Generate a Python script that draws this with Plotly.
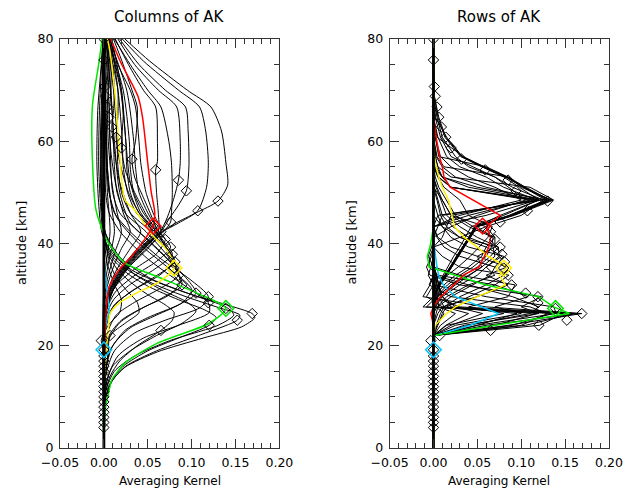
import plotly.graph_objects as go

# ---------------- diagonal of the averaging kernel (diamonds, both panels) ----------------
DIAG_ALT = [4, 5, 6, 7, 8, 9, 10, 11, 12, 13, 14, 15, 16, 17, 18, 19.2, 21, 22, 23, 24, 25, 26.3,
            27.3, 28.4, 29.6, 30.3, 31.9, 33.8, 35.2, 36.4, 37.9, 39.3, 40.8, 42.3, 43.4, 44.2,
            46.4, 48.3, 50.3, 52.4, 54.4, 56.5, 58.7, 60.8, 62.8, 64.7, 66.7, 68.8, 70.7, 75.9, 80]
DIAG_VAL = [0, 0, 0, 0, 0, 0, 0, 0, 0, 0, 0, 0, 0, 0, 0, 0, -0.003, 0.007, 0.065, 0.12, 0.152, 0.169,
            0.139, 0.119, 0.119, 0.105, 0.089, 0.085, 0.08, 0.081, 0.078, 0.076, 0.07, 0.065, 0.056, 0.076,
            0.107, 0.13, 0.094, 0.085, 0.059, 0.032, 0.02, 0.014, 0.009, 0.006, 0.004, 0.002, 0.001, 0, 0]

HILITE_LEVELS = [19.2, 27.3, 35.2, 43.4]
HILITE_COLORS = ["#00c8ff", "#00e600", "#ffee00", "#ff0000"]

ZERO_ALT = [0, 80]
ZERO_X = [0, 0]

# ---------------- left panel: columns of AK (altitude list, value list) ----------------
LEFT_COLUMNS = [
    [[0, 16, 19, 21, 24, 26.5, 29, 32, 36, 42, 80], [0, 0.001, 0.0, -0.003, 0.005, 0.018, 0.02, 0.012, 0.004, 0, 0]],
    [[0, 12, 16, 19, 22, 24.5, 26.5, 28.5, 31, 34, 38, 45, 80], [0, 0.001, 0.003, 0.005, 0.007, 0.025, 0.04, 0.038, 0.025, 0.012, 0.004, 0, 0]],
    [[0, 10, 14, 17, 20, 23, 25, 26.5, 28, 30, 32.5, 35, 38, 42, 55, 80], [0, 0.001, 0.007, 0.018, 0.038, 0.065, 0.078, 0.08, 0.07, 0.05, 0.03, 0.015, 0.005, 0, -0.002, 0]],
    [[0, 9, 13, 16, 19, 21.5, 24, 25.5, 27, 29, 31.5, 34, 37, 40, 48, 60, 80], [0, 0.001, 0.008, 0.022, 0.05, 0.085, 0.12, 0.128, 0.115, 0.085, 0.052, 0.028, 0.01, 0.001, -0.003, -0.004, 0]],
    [[0, 9, 13, 16, 19, 22, 25, 26, 27.5, 29.5, 32, 34.5, 37.5, 41, 48, 56, 66, 80], [0, 0.001, 0.009, 0.025, 0.06, 0.108, 0.152, 0.155, 0.13, 0.095, 0.058, 0.03, 0.01, 0.0, -0.004, -0.006, -0.005, -0.001]],
    [[0, 8, 10, 13.3, 15.8, 18.8, 21.5, 23.7, 25.5, 26.3, 28, 30, 32.5, 35, 38, 42, 48, 56, 66, 75, 80], [0, 0.001, 0.002, 0.01, 0.024, 0.061, 0.113, 0.157, 0.172, 0.169, 0.14, 0.1, 0.06, 0.03, 0.01, -0.002, -0.006, -0.008, -0.007, -0.003, -0.001]],
    [[0, 11, 15, 18, 21, 24, 26, 27.5, 30, 33, 37, 42, 50, 80], [0, 0.002, 0.012, 0.035, 0.075, 0.13, 0.148, 0.14, 0.1, 0.055, 0.02, 0.002, -0.003, 0]],
    [[0, 12, 16, 19, 22, 24.5, 26.8, 28.5, 31, 34, 38, 43, 55, 80], [0, 0.002, 0.01, 0.03, 0.06, 0.09, 0.105, 0.095, 0.065, 0.035, 0.012, 0.0, -0.003, 0]],
    [[0, 13, 18, 21.5, 24, 26.5, 28.4, 32, 37, 42, 46, 50, 60, 70, 80], [0, 0.003, 0.016, 0.045, 0.085, 0.12, 0.119, 0.09, 0.05, 0.02, 0.006, 0.002, 0.001, 0, -0.001]],
    [[0, 14, 19, 22.5, 25, 27.5, 29.6, 33, 37, 42.3, 46, 50, 60, 70, 80], [0, 0.002, 0.012, 0.035, 0.07, 0.11, 0.119, 0.098, 0.065, 0.03, 0.012, 0.006, 0.003, 0.002, 0]],
    [[0, 14, 19, 23, 25.5, 28, 30.3, 33, 37, 42.3, 46, 50, 60, 70, 80], [0, 0.001, 0.007, 0.024, 0.05, 0.085, 0.105, 0.095, 0.072, 0.04, 0.018, 0.01, 0.007, 0.005, 0.001]],
    [[0, 15, 20, 23.5, 26, 28.5, 31, 35, 40, 45, 50, 60, 80], [0, 0.002, 0.01, 0.03, 0.06, 0.09, 0.1, 0.075, 0.04, 0.015, 0.006, 0.002, 0]],
    [[0, 16, 21, 24.5, 27, 29.5, 31.9, 37, 42.3, 46, 50, 55, 60, 70, 80], [0, 0.001, 0.005, 0.018, 0.04, 0.068, 0.089, 0.075, 0.048, 0.024, 0.015, 0.012, 0.011, 0.008, 0.002]],
    [[0, 17, 22, 25, 27.5, 30, 32.5, 35.5, 40, 44, 50, 60, 80], [0, 0.001, 0.006, 0.02, 0.045, 0.075, 0.087, 0.08, 0.055, 0.03, 0.018, 0.012, 0.003]],
    [[0, 18, 23, 26, 28.5, 31, 33.8, 38, 42.3, 46, 50, 55, 60, 70, 80], [0, 0.001, 0.005, 0.014, 0.035, 0.062, 0.085, 0.075, 0.054, 0.03, 0.02, 0.016, 0.015, 0.011, 0.003]],
    [[0, 20, 24, 27.5, 30.5, 33.5, 36.4, 39, 42.3, 46, 50, 55, 60, 70, 80], [0, 0, 0.003, 0.01, 0.03, 0.058, 0.081, 0.072, 0.058, 0.037, 0.027, 0.022, 0.021, 0.016, 0.004]],
    [[0, 20, 25, 28, 31, 34, 36.8, 39.5, 42.3, 46, 52, 60, 70, 80], [0, 0, 0.003, 0.012, 0.035, 0.065, 0.08, 0.07, 0.06, 0.042, 0.03, 0.025, 0.02, 0.005]],
    [[0, 20, 26, 29, 32, 35, 37.9, 40, 42.3, 46, 50, 55, 60, 70, 80], [0, 0, 0.003, 0.011, 0.03, 0.058, 0.078, 0.07, 0.06, 0.04, 0.03, 0.026, 0.025, 0.019, 0.005]],
    [[0, 20, 27, 30.5, 33.5, 36.5, 39.3, 42.3, 46, 50, 55, 60, 70, 80], [0, 0, 0.003, 0.013, 0.033, 0.06, 0.076, 0.062, 0.045, 0.034, 0.03, 0.029, 0.022, 0.005]],
    [[0, 20, 25, 29, 32, 35, 38, 40.8, 42.3, 46, 50, 55, 60, 70, 80], [0, 0, 0.001, 0.005, 0.015, 0.035, 0.06, 0.07, 0.063, 0.05, 0.04, 0.036, 0.034, 0.026, 0.006]],
    [[0, 20, 26, 30, 33, 36, 39, 42.3, 46, 50, 55.8, 60, 66.7, 70, 75, 80], [0, 0, 0.001, 0.005, 0.015, 0.032, 0.05, 0.065, 0.056, 0.048, 0.042, 0.04, 0.036, 0.03, 0.016, 0.007]],
    [[0, 20, 27, 31, 35, 39, 42.3, 44.2, 46, 50, 55.8, 60, 66.7, 70, 75, 80], [0, 0, 0.003, 0.011, 0.027, 0.048, 0.068, 0.076, 0.077, 0.078, 0.077, 0.074, 0.065, 0.05, 0.03, 0.012]],
    [[0, 20, 27, 31, 35, 39, 42.3, 44, 46.4, 51, 55.8, 62, 66.7, 70, 75.7, 80], [0, 0, 0.003, 0.011, 0.026, 0.046, 0.067, 0.085, 0.107, 0.117, 0.119, 0.116, 0.109, 0.085, 0.045, 0.021]],
    [[0, 20, 27, 31, 35, 39, 42.3, 44, 46, 48.3, 51.4, 55.8, 62, 66.7, 70, 75.7, 80], [0, 0, 0.003, 0.01, 0.025, 0.045, 0.066, 0.082, 0.105, 0.13, 0.141, 0.139, 0.134, 0.122, 0.095, 0.052, 0.024]],
    [[0, 20, 27, 31, 35, 39, 42.3, 45, 47.5, 50.3, 52.5, 55.8, 62, 66.7, 70, 75, 80], [0, 0, 0.003, 0.01, 0.024, 0.044, 0.065, 0.075, 0.085, 0.094, 0.096, 0.097, 0.096, 0.093, 0.07, 0.04, 0.018]],
    [[0, 20, 27, 31, 35, 39, 42.3, 45, 49, 52.4, 55.8, 60, 66.7, 70, 75, 80], [0, 0, 0.002, 0.009, 0.023, 0.043, 0.064, 0.072, 0.08, 0.085, 0.087, 0.087, 0.083, 0.062, 0.035, 0.016]],
    [[0, 20, 27, 31, 35, 39, 42.3, 46, 50, 54.4, 56, 60, 66.7, 70, 75, 80], [0, 0, 0.002, 0.008, 0.022, 0.042, 0.062, 0.062, 0.06, 0.059, 0.061, 0.061, 0.059, 0.045, 0.028, 0.013]],
    [[0, 20, 27, 31, 35, 39, 42.3, 45, 49, 53, 56.5, 60, 66.7, 70, 75, 80], [0, 0, 0.002, 0.007, 0.021, 0.041, 0.06, 0.055, 0.045, 0.035, 0.032, 0.036, 0.038, 0.032, 0.022, 0.011]],
    [[0, 20, 27, 31, 35, 39, 42.3, 46, 50, 54, 58.7, 65, 70, 75, 80], [0, 0, 0.002, 0.007, 0.02, 0.04, 0.058, 0.047, 0.035, 0.025, 0.02, 0.022, 0.02, 0.015, 0.009]],
    [[0, 20, 31, 35, 39, 42.3, 46, 50, 56, 60.8, 65, 70, 75, 80], [0, 0, 0.006, 0.019, 0.038, 0.055, 0.04, 0.028, 0.018, 0.014, 0.016, 0.016, 0.012, 0.008]],
    [[0, 20, 31, 35, 39, 42.3, 46, 52, 58, 62.8, 66, 70, 75, 80], [0, 0, 0.005, 0.015, 0.03, 0.042, 0.03, 0.018, 0.012, 0.009, 0.011, 0.012, 0.01, 0.006]],
    [[0, 25, 31, 35, 39, 42.3, 46, 52, 58, 64.7, 70, 75, 80], [0, 0, 0.003, 0.01, 0.02, 0.03, 0.022, 0.013, 0.008, 0.006, 0.008, 0.008, 0.005]],
    [[0, 28, 33, 38, 42.3, 46, 52, 60, 66.7, 75, 80], [0, 0, 0.004, 0.012, 0.02, 0.015, 0.009, 0.005, 0.004, 0.006, 0.004]],
    [[0, 30, 36, 42.3, 48, 55, 62, 68.8, 75, 80], [0, 0, 0.005, 0.012, 0.008, 0.004, 0.003, 0.002, 0.004, 0.003]],
    [[0, 32, 42.3, 50, 60, 70.7, 80], [0, 0, 0.007, 0.004, 0.002, 0.001, 0.002]],
]

LEFT_CYAN_ALT = [0, 19.2, 24, 27, 30, 35, 40, 80]
LEFT_CYAN_X = [0, 0, 0.002, 0.006, 0.004, 0.001, 0, 0]
LEFT_GREEN_ALT = [0, 8, 11.3, 13.3, 16.6, 20.5, 24.4, 27.3, 30.3, 33.5, 36.2, 40.4, 46.6, 56, 67, 75, 80]
LEFT_GREEN_X = [0, 0.002, 0.006, 0.009, 0.024, 0.061, 0.12, 0.139, 0.106, 0.061, 0.024, 0.004, -0.009, -0.013, -0.013, -0.006, -0.002]
LEFT_YELLOW_ALT = [0, 10, 18, 23, 26.3, 28.3, 30.3, 32.3, 35.2, 38.7, 41.3, 46.6, 48.5, 56.3, 68.6, 78.5, 80]
LEFT_YELLOW_X = [0, 0, 0.002, 0.005, 0.007, 0.017, 0.037, 0.061, 0.08, 0.072, 0.057, 0.035, 0.024, 0.0185, 0.013, 0.006, 0.004]
LEFT_RED_ALT = [0, 20, 28, 31.5, 34.8, 37.4, 40.7, 43.4, 46, 50, 55.7, 64.7, 68.7, 75.5, 80]
LEFT_RED_X = [0, 0.001, 0.003, 0.006, 0.017, 0.031, 0.046, 0.056, 0.058, 0.054, 0.05, 0.044, 0.039, 0.019, 0.008]

# ---------------- right panel: rows of AK on the altitude grid ----------------
GRID_ALT = [0, 20, 22, 24, 26.3, 27.6, 29.6, 31.9, 33.8, 35.4, 37.5, 39.3, 41.2, 43.3, 45.5, 48.5,
            51, 53, 55, 57, 60.8, 64.7, 68.8, 80]

RIGHT_ROWS = [
    [0, 0, 0, 0.004, 0.012, 0.003, 0.002, 0.001, 0, 0, 0, 0, 0, 0, 0, 0, 0, 0, 0, 0, 0, 0, 0, 0],
    [0, 0, 0, 0.008, 0.025, 0.006, 0.004, 0.002, 0.001, 0, 0, 0, 0, 0, 0, 0, 0, 0, 0, 0, 0, 0, 0, 0],
    [0, 0, 0, 0.014, 0.04, 0.012, 0.006, 0.004, 0.002, 0.001, 0, 0, 0, 0, 0, 0, 0, 0, 0, 0, 0, 0, 0, 0],
    [0, 0, 0, 0.02, 0.056, 0.025, 0.01, 0.006, 0.003, 0.001, 0, 0, 0, 0, 0, 0, 0, 0, 0, 0, 0, 0, 0, 0],
    [0, 0, 0, 0.05, 0.095, 0.02, 0.01, 0.006, 0.003, 0.001, 0, 0, 0, 0, 0, 0, 0, 0, 0, 0, 0, 0, 0, 0],
    [0, 0, 0, 0.07, 0.118, 0.0, 0.008, 0.006, 0.003, 0.001, 0, 0, 0, 0, 0, 0, 0, 0, 0, 0, 0, 0, 0, 0],
    [0, 0, 0, 0.09, 0.135, -0.008, 0.004, 0.004, 0.002, 0.001, 0, 0, 0, 0, 0, 0, 0, 0, 0, 0, 0, 0, 0, 0],
    [0, 0, 0, 0.121, 0.148, -0.012, 0.0, 0.003, 0.002, 0.001, 0, 0, 0, 0, 0, 0, 0, 0, 0, 0, 0, 0, 0, 0],
    [0, 0, 0, 0.105, 0.16, 0.01, -0.008, 0.0, 0.001, 0, 0, 0, 0, 0, 0, 0, 0, 0, 0, 0, 0, 0, 0, 0],
    [0, 0, 0, 0.085, 0.169, 0.06, -0.012, -0.004, 0, 0, 0, 0, 0, 0, 0, 0, 0, 0, 0, 0, 0, 0, 0, 0],
    [0, 0, 0, 0.06, 0.165, 0.03, 0.0, 0.0, 0, 0, 0, 0, 0, 0, 0, 0, 0, 0, 0, 0, 0, 0, 0, 0],
    [0, 0, 0, 0.1, 0.13, 0.11, 0.02, -0.005, 0, 0, 0, 0, 0, 0, 0, 0, 0, 0, 0, 0, 0, 0, 0, 0],
    [0, 0, 0, 0.04, 0.11, 0.12, 0.09, 0.04, 0.0, 0, 0, 0, 0, 0, 0, 0, 0, 0, 0, 0, 0, 0, 0, 0],
    [0, 0, 0, 0.05, 0.14, 0.137, 0.06, 0.0, -0.006, -0.003, 0, 0, 0, 0, 0, 0, 0, 0, 0, 0, 0, 0, 0, 0],
    [0, 0, 0, 0.035, 0.12, 0.1, 0.123, 0.03, -0.004, -0.008, -0.002, 0, 0, 0, 0, 0, 0, 0, 0, 0, 0, 0, 0, 0],
    [0, 0, 0, 0.025, 0.1, 0.07, 0.108, 0.07, 0.005, -0.005, -0.004, 0, 0, 0, 0, 0, 0, 0, 0, 0, 0, 0, 0, 0],
    [0, 0, 0, 0.015, 0.08, 0.04, 0.085, 0.093, 0.03, 0.0, -0.006, -0.002, 0, 0, 0, 0, 0, 0, 0, 0, 0, 0, 0, 0],
    [0, 0, 0, 0.005, 0.01, 0.015, 0.04, 0.07, 0.086, 0.03, 0.01, 0.0, 0, 0, 0, 0, 0, 0, 0, 0, 0, 0, 0, 0],
    [0, 0, 0, 0.003, 0.008, 0.012, 0.03, 0.06, 0.08, 0.07, 0.03, 0.012, 0.004, 0, 0, 0, 0, 0, 0, 0, 0, 0, 0, 0],
    [0, 0, 0, 0, 0.005, 0.01, 0.05, 0.085, 0.06, 0.084, 0.05, 0.02, 0.005, 0, 0, 0, 0, 0, 0, 0, 0, 0, 0, 0],
    [0, 0, 0, 0, 0.003, 0.005, 0.02, 0.045, 0.065, 0.07, 0.08, 0.04, 0.02, 0.01, 0.005, 0, 0, 0, 0, 0, 0, 0, 0, 0],
    [0, 0, 0, 0, 0, 0.004, 0.015, 0.04, 0.07, 0.06, 0.075, 0.074, 0.03, 0.01, 0, 0, 0, 0, 0, 0, 0, 0, 0, 0],
    [0, 0, 0, 0, 0, 0.002, 0.01, 0.03, 0.05, 0.06, 0.078, 0.06, 0.03, 0.015, 0.008, 0.004, 0, 0, 0, 0, 0, 0, 0, 0],
    [0, 0, 0, 0, 0, 0.001, 0.008, 0.025, 0.042, 0.055, 0.07, 0.068, 0.04, 0.022, 0.01, 0.005, 0.001, 0, 0, 0, 0, 0, 0, 0],
    [0, 0, 0, 0, 0, 0, 0.005, 0.02, 0.035, 0.05, 0.065, 0.074, 0.05, 0.03, 0.015, 0.008, 0.003, 0, 0, 0, 0, 0, 0, 0],
    [0, 0, 0, 0, 0, 0, 0.004, 0.02, 0.04, 0.055, 0.05, 0.07, 0.07, 0.06, 0.02, 0.01, 0, 0, 0, 0, 0, 0, 0, 0],
    [0, 0, 0, 0, 0, 0, 0.003, 0.016, 0.03, 0.045, 0.06, 0.066, 0.068, 0.04, 0.02, 0.01, 0.004, 0, 0, 0, 0, 0, 0, 0],
    [0, 0, 0, 0, 0, 0, 0.002, 0.012, 0.025, 0.04, 0.055, 0.06, 0.07, 0.045, 0.025, 0.015, 0.006, 0.002, 0, 0, 0, 0, 0, 0],
    [0, 0, 0, 0, 0, 0, 0, 0.007, 0.016, 0.028, 0.042, 0.052, 0.062, 0.067, 0.04, 0.03, 0.012, 0.005, 0.001, 0, 0, 0, 0, 0],
    [0, 0, 0, 0, 0, 0, 0, 0.007, 0.014, 0.02, 0.027, 0.034, 0.041, 0.049, 0.076, 0.12, 0.02, 0.006, 0.002, 0, 0, 0, 0, 0],
    [0, 0, 0, 0, 0, 0, 0.001, 0.008, 0.015, 0.021, 0.028, 0.035, 0.042, 0.05, 0.09, 0.13, 0.05, 0.01, 0.003, 0, 0, 0, 0, 0],
    [0, 0, 0, 0, 0, 0, 0, 0.006, 0.013, 0.019, 0.026, 0.033, 0.04, 0.048, 0.092, 0.137, 0.11, 0.02, 0.005, 0.002, 0, 0, 0, 0],
    [0, 0, 0, 0, 0, 0, 0, 0.007, 0.014, 0.02, 0.027, 0.034, 0.041, 0.049, 0.09, 0.135, 0.1, 0.086, 0.012, 0.004, 0, 0, 0, 0],
    [0, 0, 0, 0, 0, 0, 0.001, 0.007, 0.014, 0.021, 0.028, 0.035, 0.042, 0.05, 0.089, 0.133, 0.105, 0.085, 0.06, 0.006, 0.002, 0, 0, 0],
    [0, 0, 0, 0, 0, 0, 0, 0.006, 0.013, 0.02, 0.026, 0.033, 0.04, 0.048, 0.088, 0.132, 0.104, 0.084, 0.058, 0.034, 0.004, 0, 0, 0],
    [0, 0, 0, 0, 0, 0, 0, 0.007, 0.014, 0.02, 0.027, 0.034, 0.041, 0.049, 0.087, 0.13, 0.103, 0.083, 0.057, 0.033, 0.015, 0.002, 0, 0],
    [0, 0, 0, 0, 0, 0, 0, 0.006, 0.013, 0.019, 0.026, 0.033, 0.04, 0.047, 0.086, 0.128, 0.102, 0.082, 0.056, 0.032, 0.014, 0.006, 0.001, 0],
    [0, 0, 0, 0, 0, 0, 0, 0.005, 0.011, 0.017, 0.023, 0.03, 0.036, 0.043, 0.08, 0.12, 0.098, 0.08, 0.055, 0.031, 0.013, 0.005, 0.001, 0],
    [0, 0, 0, 0, 0, 0, 0, 0, 0, 0, 0, 0, 0.03, 0.06, 0.1, 0.125, 0.09, 0.07, 0.04, 0.025, 0.01, 0.004, 0, 0],
    [0, 0, 0, 0, 0, 0, 0, 0, 0, 0, 0, 0, 0.01, 0.015, 0.02, 0.115, 0.02, 0.01, 0.005, 0.002, 0, 0, 0, 0],
    [0, 0, 0, 0, 0, 0, 0, 0, 0, 0, 0, 0, 0, 0.005, 0.01, 0.12, 0.04, 0.01, 0, 0, 0, 0, 0, 0],
    [0, 0, 0, 0, 0, 0, 0, 0, 0, 0, 0, 0, 0, 0, 0.005, 0.125, 0.06, 0.025, 0.01, 0.003, 0, 0, 0, 0],
    [0, 0, 0, 0, 0, 0, 0, 0, 0, 0, 0, 0, 0, 0, 0.04, 0.11, 0.02, 0.005, 0, 0, 0, 0, 0, 0],
    [0, 0, 0, 0, 0, 0, 0, 0, 0, 0, 0, 0, 0, 0, 0.03, 0.1, 0.07, 0.04, 0.02, 0.008, 0.002, 0, 0, 0],
    [0, 0, 0, 0, 0, 0, 0, 0, 0, 0, 0, 0, 0, 0, 0.06, 0.118, 0.08, 0.06, 0.03, 0.015, 0.005, 0, 0, 0],
    [0, 0, 0, 0, 0, 0, 0, 0, 0, 0, 0, 0, 0, 0.02, 0.05, 0.105, 0.085, 0.07, 0.045, 0.02, 0.008, 0.002, 0, 0],
]

RIGHT_CYAN = [0, 0, 0.002, 0.042, 0.074, 0.055, 0.025, 0.011, 0.006, 0.004, 0.002, 0.001, 0, 0, 0, 0, 0, 0, 0, 0, 0, 0, 0, 0]
RIGHT_GREEN = [0, 0, 0, 0.07, 0.155, 0.137, 0.12, 0.06, 0.025, -0.005, -0.007, -0.004, -0.002, 0, 0, 0, 0, 0, 0, 0, 0, 0, 0, 0]
RIGHT_YELLOW = [0, 0, 0, 0.002, 0.015, 0.025, 0.05, 0.082, 0.075, 0.084, 0.062, 0.05, 0.035, 0.024, 0.021, 0.017, 0.01, 0.006, 0.003, 0.001, 0, 0, 0, 0]
RIGHT_RED = [0, 0, 0, 0, -0.003, 0.0, 0.008, 0.023, 0.034, 0.052, 0.058, 0.063, 0.065, 0.06, 0.076, 0.045, 0.019, 0.012, 0.01, 0.007, 0.003, 0, 0, 0]

X_TICKS = [-0.05, 0.0, 0.05, 0.10, 0.15, 0.20]
Y_TICKS = [0, 20, 40, 60, 80]

FONT = "DejaVu Sans"

fig = go.Figure()


def line(alts, xs, color, width, ax, shape):
    kw = dict(color=color, width=width, shape=shape)
    if shape == "spline":
        kw["smoothing"] = 0.7
    fig.add_trace(go.Scatter(x=xs, y=alts, mode="lines", line=kw,
                             xaxis=ax[0], yaxis=ax[1], hoverinfo="skip", showlegend=False))


def diamonds(ax):
    fig.add_trace(go.Scatter(x=DIAG_VAL, y=DIAG_ALT, mode="markers",
                             marker=dict(symbol="diamond-open", size=8, color="black",
                                         line=dict(color="black", width=1)),
                             xaxis=ax[0], yaxis=ax[1], hoverinfo="skip", showlegend=False))
    for lev, col in zip(HILITE_LEVELS, HILITE_COLORS):
        i = DIAG_ALT.index(lev)
        fig.add_trace(go.Scatter(x=[DIAG_VAL[i]], y=[DIAG_ALT[i]], mode="markers",
                                 marker=dict(symbol="diamond-open", size=12, color=col,
                                             line=dict(color=col, width=1.5)),
                                 xaxis=ax[0], yaxis=ax[1], hoverinfo="skip", showlegend=False))


# ---- left panel ----
L = ("x", "y")
for alts, xs in LEFT_COLUMNS:
    line(alts, xs, "black", 1, L, "spline")
line(LEFT_CYAN_ALT, LEFT_CYAN_X, HILITE_COLORS[0], 1.5, L, "spline")
line(LEFT_GREEN_ALT, LEFT_GREEN_X, HILITE_COLORS[1], 1.5, L, "spline")
line(LEFT_YELLOW_ALT, LEFT_YELLOW_X, HILITE_COLORS[2], 1.5, L, "spline")
line(LEFT_RED_ALT, LEFT_RED_X, HILITE_COLORS[3], 1.5, L, "spline")
line(ZERO_ALT, ZERO_X, "black", 2.8, L, "linear")
diamonds(L)

# ---- right panel ----
R = ("x2", "y2")
for row in RIGHT_ROWS:
    line(GRID_ALT, row, "black", 1, R, "linear")
line(GRID_ALT, RIGHT_CYAN, HILITE_COLORS[0], 1.5, R, "linear")
line(GRID_ALT, RIGHT_GREEN, HILITE_COLORS[1], 1.5, R, "linear")
line(GRID_ALT, RIGHT_YELLOW, HILITE_COLORS[2], 1.5, R, "linear")
line(GRID_ALT, RIGHT_RED, HILITE_COLORS[3], 1.5, R, "linear")
line(ZERO_ALT, ZERO_X, "black", 2.8, R, "linear")
diamonds(R)

axcol = "#333333"
common = dict(showline=True, linecolor=axcol, linewidth=1, mirror="allticks", ticks="inside",
              ticklen=9, tickwidth=1, tickcolor=axcol, showgrid=False, zeroline=False,
              tickfont=dict(family=FONT, size=12.5, color="black"))
xcfg = dict(common, range=[-0.05, 0.20], tickvals=X_TICKS, tickformat=".2f", ticklabelstandoff=3,
            minor=dict(ticks="inside", ticklen=5, dtick=0.01, tick0=0, tickcolor=axcol, showgrid=False))
ycfg = dict(common, range=[0, 80], tickvals=Y_TICKS, ticklabelstandoff=3,
            minor=dict(ticks="inside", ticklen=5, dtick=5, tick0=0, tickcolor=axcol, showgrid=False))

# page offset of the figure (browser body margin)
OFF = 8
W, H = 622, 480
left_px, right_px, top_px, bot_px = 60 - OFF, 623 - OFF, 39 - OFF, 448 - OFF
pw = right_px - left_px
ph = bot_px - top_px


def px_x(p):
    return (p - OFF - left_px) / pw


def px_y(p):
    return (bot_px - (p - OFF)) / ph


fig.update_layout(
    width=W, height=H,
    margin=dict(l=left_px, r=W - right_px, t=top_px, b=H - bot_px),
    paper_bgcolor="white", plot_bgcolor="white",
    xaxis=dict(xcfg, domain=[0, px_x(285)], anchor="y"),
    yaxis=dict(ycfg, domain=[0, 1], anchor="x"),
    xaxis2=dict(xcfg, domain=[px_x(398), 1], anchor="y2"),
    yaxis2=dict(ycfg, domain=[0, 1], anchor="x2"),
    showlegend=False,
)

ann = []
for title, cx, tx in [("Columns of AK", 172.5, 20), ("Rows of AK", 510.5, 358)]:
    ann.append(dict(text=title, x=px_x(cx), y=px_y(17), xref="paper", yref="paper",
                    showarrow=False, xanchor="center", yanchor="middle",
                    font=dict(family=FONT, size=15, color="black")))
    ann.append(dict(text="Averaging Kernel", x=px_x(cx), y=px_y(481), xref="paper", yref="paper",
                    showarrow=False, xanchor="center", yanchor="middle",
                    font=dict(family=FONT, size=12, color="black")))
    ann.append(dict(text="altitude [km]", x=px_x(tx), y=px_y(243), xref="paper", yref="paper",
                    showarrow=False, xanchor="center", yanchor="middle", textangle=-90,
                    font=dict(family=FONT, size=13, color="black")))
fig.update_layout(annotations=ann)

fig.write_html("out.html")
